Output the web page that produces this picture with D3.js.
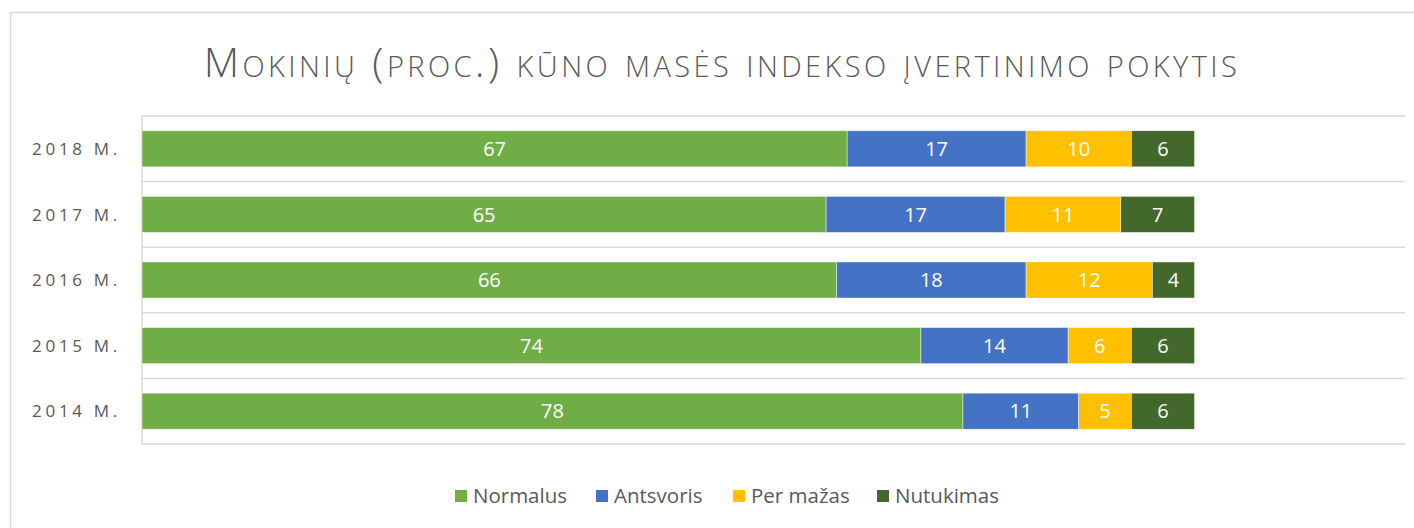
<!DOCTYPE html>
<html>
<head>
<meta charset="utf-8">
<script src="https://cdn.jsdelivr.net/npm/d3@7"></script>
<style>
  body { margin: 0; background: #fff; }
  svg text { font-family: "Open Sans", "DejaVu Sans", sans-serif; }
</style>
</head>
<body>
<svg id="chart" width="1414" height="528"></svg>
<script>
// categories (top to bottom) and series values
var years = ['2018 m.', '2017 m.', '2016 m.', '2015 m.', '2014 m.'];
var seriesNames = ['Normalus', 'Antsvoris', 'Per mažas', 'Nutukimas'];
var seriesColors = ['#70AD47', '#4472C4', '#FFC000', '#43682B'];
var normalus  = [67, 65, 66, 74, 78];
var antsvoris = [17, 17, 18, 14, 11];
var perMazas  = [10, 11, 12, 6, 5];
var nutukimas = [6, 7, 4, 6, 6];
var xMax = 120;

var svg = d3.select('#chart');

// chart border (right and bottom edges fall outside the picture)
svg.append('rect')
  .attr('x', 10.5).attr('y', 12.5)
  .attr('width', 1500).attr('height', 600)
  .attr('fill', '#fff')
  .attr('stroke', '#d9d9d9')
  .attr('stroke-width', 1.5);

// title
svg.append('text')
  .attr('x', 722).attr('y', 77)
  .attr('text-anchor', 'middle')
  .style('font-size', '41px')
  .style('font-weight', 300)
  .style('font-variant', 'small-caps')
  .style('letter-spacing', '3.4px')
  .attr('fill', '#595959')
  .text('Mokinių (proc.) kūno masės indekso įvertinimo pokytis');

var margin = {left: 142, right: 1405, top: 116, bottom: 444};

var x = d3.scaleLinear().domain([0, xMax]).range([margin.left, margin.right]);
var y = d3.scaleBand().domain(years).range([margin.top, margin.bottom]).paddingInner(0.45).paddingOuter(0.225);

// build rows for stacking
var rows = years.map(function(yr, i){
  return {year: yr, Normalus: normalus[i], Antsvoris: antsvoris[i], 'Per mažas': perMazas[i], Nutukimas: nutukimas[i]};
});
var stack = d3.stack().keys(seriesNames)(rows);

// gridlines between categories
var bounds = d3.range(years.length + 1).map(function(i){ return margin.top + i * (margin.bottom - margin.top) / years.length; });
svg.append('g').selectAll('line')
  .data(bounds)
  .enter().append('line')
    .attr('x1', margin.left).attr('x2', margin.right)
    .attr('y1', function(d){ return d; }).attr('y2', function(d){ return d; })
    .attr('stroke', '#d9d9d9')
    .attr('stroke-width', 1.5);

// vertical axis line
svg.append('line')
  .attr('x1', margin.left).attr('x2', margin.left)
  .attr('y1', margin.top).attr('y2', margin.bottom)
  .attr('stroke', '#d9d9d9')
  .attr('stroke-width', 1.5);

// bars
var groups = svg.append('g').selectAll('g')
  .data(stack)
  .enter().append('g')
    .attr('fill', function(d, i){ return seriesColors[i]; });

groups.selectAll('rect')
  .data(function(d){ return d; })
  .enter().append('rect')
    .attr('x', function(d){ return x(d[0]); })
    .attr('y', function(d){ return y(d.data.year); })
    .attr('width', function(d){ return x(d[1]) - x(d[0]); })
    .attr('height', y.bandwidth())
    .attr('stroke', '#fff')
    .attr('stroke-opacity', 0.6)
    .attr('stroke-width', 0.75);

// data labels
groups.selectAll('text')
  .data(function(d){ return d; })
  .enter().append('text')
    .attr('x', function(d){ return (x(d[0]) + x(d[1])) / 2; })
    .attr('y', function(d){ return y(d.data.year) + y.bandwidth() / 2; })
    .attr('dy', '0.36em')
    .attr('text-anchor', 'middle')
    .attr('fill', '#fff')
    .style('font-size', '20px')
    .text(function(d){ return d[1] - d[0]; });

// category labels
svg.append('g').selectAll('text')
  .data(years)
  .enter().append('text')
    .attr('x', 121)
    .attr('y', function(d){ return y(d) + y.bandwidth() / 2; })
    .attr('dy', '0.36em')
    .attr('text-anchor', 'end')
    .attr('fill', '#595959')
    .style('font-size', '17px')
    .style('letter-spacing', '3.7px')
    .text(function(d){ return d.toUpperCase(); });

// legend
var legendX = [455, 596, 733, 877];
var legend = svg.append('g').selectAll('g')
  .data(seriesNames)
  .enter().append('g')
    .attr('transform', function(d, i){ return 'translate(' + legendX[i] + ',496)'; });

legend.append('rect')
  .attr('x', 0).attr('y', -6)
  .attr('width', 12).attr('height', 12)
  .attr('fill', function(d, i){ return seriesColors[i]; });

legend.append('text')
  .attr('x', 18).attr('y', 0)
  .attr('dy', '0.36em')
  .attr('fill', '#595959')
  .style('font-size', '20.5px')
  .text(function(d){ return d; });
</script>
</body>
</html>
